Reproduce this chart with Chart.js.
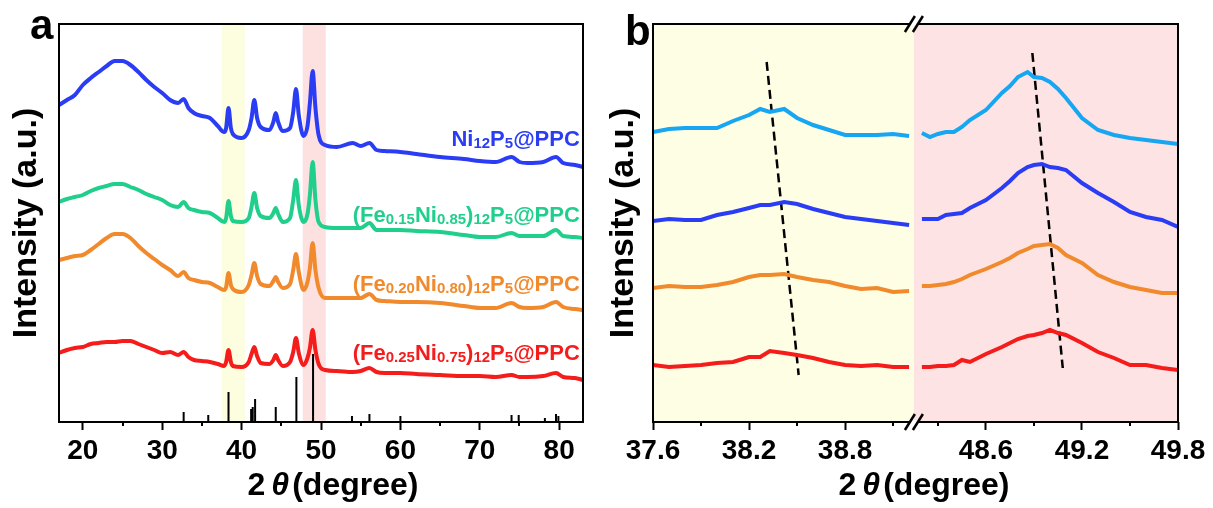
<!DOCTYPE html>
<html>
<head>
<meta charset="utf-8">
<script src="https://cdn.jsdelivr.net/npm/chart.js@4.4.1/dist/chart.umd.min.js"></script>
<style>
  body { margin: 0; background: #fff; }
  canvas { position: absolute; top: 0; }
</style>
</head>
<body>
<canvas id="chartA" width="600" height="508" style="left:0"></canvas>
<canvas id="chartB" width="613" height="508" style="left:600px"></canvas>
<script>
// XRD figure: (a) full patterns, (b) zoom on two peaks with broken axis

const FONT = '"Liberation Sans", Arial, sans-serif';
Chart.defaults.font.family = FONT;
Chart.defaults.color = '#000';

// ---- panel a : full patterns (2θ, offset intensity in a.u.) ----
const aX = [17, 18, 19, 20, 21, 22, 23, 24, 25, 26,
  27, 28, 29, 30, 31, 32, 32.7, 33.3, 34, 35,
  36, 37, 37.8, 38.05, 38.35, 38.65, 38.9, 40, 40.9, 41.25,
  41.6, 41.95, 42.4, 43.5, 44.0, 44.3, 44.6, 45.2, 46.1, 46.5,
  46.85, 47.2, 47.8, 48.3, 48.6, 48.95, 49.3, 49.7, 50.5, 52,
  54, 55, 56.1, 57, 58, 60, 62, 65, 68, 70,
  72, 74, 75, 76, 78, 79.6, 80.5, 82, 83];
const aNi = [317, 322, 327, 337, 344, 350, 356, 361, 361, 357,
  350, 342, 335, 329, 322, 319, 323, 314, 309, 306,
  304, 296, 290, 294, 314, 294, 288, 284, 292, 304,
  322, 304, 295, 292, 300, 309, 300, 291, 294, 310,
  333, 307, 286, 296, 319, 351, 314, 287, 277, 275,
  279, 276, 279, 272, 271, 270, 268, 265, 263, 261,
  260, 265, 260, 259, 260, 265, 259, 257, 255];
const aFe15 = [220, 223, 225, 227, 231, 234, 236, 238, 238, 235,
  232, 228, 225, 222, 217, 215, 220, 214, 212, 210,
  209, 204, 200, 204, 221, 206, 201, 200, 204, 215,
  229, 214, 206, 204, 209, 214, 208, 200, 204, 222,
  242, 217, 200, 208, 227, 260, 222, 200, 195, 194,
  194, 194, 199, 192, 192, 192, 191, 190, 187, 185,
  185, 189, 186, 186, 186, 192, 186, 185, 184];
const aFe20 = [162, 164, 166, 167, 172, 178, 184, 188, 188, 184,
  176, 169, 163, 157, 152, 146, 150, 144, 142, 140,
  139, 135, 132, 135, 149, 137, 133, 130, 137, 147,
  159, 146, 138, 136, 141, 145, 140, 134, 138, 152,
  168, 150, 132, 140, 154, 179, 152, 134, 124, 124,
  124, 124, 128, 122, 121, 120, 120, 119, 116, 114,
  114, 119, 115, 114, 115, 120, 115, 113, 112];
const aFe25 = [69, 72, 74, 75, 78, 79, 80, 80, 81, 81,
  78, 75, 72, 69, 70, 67, 70, 65, 62, 61,
  60, 58, 56, 60, 72, 60, 56, 55, 60, 68,
  75, 66, 59, 58, 62, 67, 62, 56, 60, 70,
  84, 69, 57, 64, 74, 92, 72, 58, 52, 51,
  50, 51, 54, 50, 49, 49, 48, 47, 46, 46,
  45, 47, 45, 45, 46, 49, 45, 44, 42];

// reference pattern (standard card) sticks
const stickX = [32.7, 35.8, 38.35, 41.2, 41.4, 41.7, 44.3, 46.9, 49.0, 53.9, 56.1, 60.0, 74.0, 74.9, 78.2, 79.6, 79.9];
const stickH = [10, 7, 30, 13, 15, 23, 15, 45, 68, 6, 8, 6, 7, 7, 4, 8, 6];

const aTicks = [20, 30, 40, 50, 60, 70, 80];
const aMinor = [25, 35, 45, 55, 65, 75];

const seriesLabels = [
  [['Ni', 0], ['12', 1], ['P', 0], ['5', 1], ['@PPC', 0]],
  [['(Fe', 0], ['0.15', 1], ['Ni', 0], ['0.85', 1], [')', 0], ['12', 1], ['P', 0], ['5', 1], ['@PPC', 0]],
  [['(Fe', 0], ['0.20', 1], ['Ni', 0], ['0.80', 1], [')', 0], ['12', 1], ['P', 0], ['5', 1], ['@PPC', 0]],
  [['(Fe', 0], ['0.25', 1], ['Ni', 0], ['0.75', 1], [')', 0], ['12', 1], ['P', 0], ['5', 1], ['@PPC', 0]]
];
const labelY = [284, 208, 139, 70];

const aColors = ['#2b3df4', '#20cf8c', '#f08a2d', '#f51c1c'];
const aBands = [
  { from: 37.5, to: 40.4, color: '#fdfddf' },
  { from: 47.7, to: 50.6, color: '#fde1e1' }
];

// ---- panel b : zoom on the two peaks, broken x axis ----
const bLeftX = [37.6, 37.7, 37.8, 37.9, 38.0, 38.1, 38.2, 38.27, 38.33, 38.42,
  38.5, 38.6, 38.7, 38.8, 38.9, 39.0, 39.1, 39.2];
const bRightX = [48.2, 48.25, 48.3, 48.35, 48.4, 48.45, 48.5, 48.6, 48.7, 48.75,
  48.8, 48.86, 48.9, 48.95, 49.0, 49.05, 49.1, 49.2, 49.3, 49.4,
  49.5, 49.6, 49.7, 49.8];

const bNiL = [290, 293, 294, 294, 294, 301, 307, 313, 310, 313, 304, 297, 292, 287, 287, 287, 288, 286];
const bNiR = [289, 285, 288, 290, 290, 295, 302, 312, 329, 336, 345, 350, 345, 344, 340, 333, 324, 304, 292, 287, 284, 282, 280, 278];
const bFe15L = [201, 203, 202, 202, 207, 210, 214, 217, 217, 220, 218, 213, 209, 205, 203, 201, 199, 197];
const bFe15R = [203, 203, 203, 207, 208, 209, 214, 222, 234, 241, 249, 255, 257, 258, 255, 254, 252, 239, 229, 220, 210, 205, 202, 195];
const bFe20L = [134, 136, 135, 135, 137, 140, 145, 147, 147, 148, 145, 142, 140, 136, 133, 134, 130, 131];
const bFe20R = [136, 136, 137, 138, 140, 143, 147, 153, 160, 164, 169, 173, 176, 177, 178, 174, 167, 159, 147, 140, 135, 132, 129, 129];
const bFe25L = [57, 55, 56, 57, 59, 60, 65, 65, 71, 69, 67, 64, 60, 57, 56, 57, 55, 55];
const bFe25R = [55, 55, 56, 56, 57, 62, 60, 68, 75, 79, 83, 86, 87, 89, 92, 89, 87, 79, 70, 64, 57, 57, 54, 52];

const bColors = ['#17a6f2', '#2b3df4', '#f08a2d', '#f51c1c'];
const bTicks = [37.6, 38.2, 38.8, 48.6, 49.2, 49.8];
const bMinor = [37.9, 38.5, 39.1, 48.3, 48.9, 49.5];
const bLeftCut = 39.23, bRightCut = 48.15;

// peak-shift guide lines
const guideL = [[38.31, 360], [38.51, 47]];
const guideR = [[48.89, 369], [49.08, 54]];

// ---------- helpers ----------
const SHIFT = bRightCut - bLeftCut;
const bMap = v => (v >= bRightCut ? v - SHIFT : v);
const bUnmap = v => (v > bLeftCut + 1e-6 ? v + SHIFT : v);
const xy = (xs, ys) => xs.map((x, i) => ({ x: x, y: ys[i] }));

function drawXTitle(ctx, cx, cy) {
  const big = 'bold 32px ' + FONT, ital = 'italic bold 32px ' + FONT;
  const parts = [['2', big, 6], ['\u03b8', ital, 3], ['(degree)', big, 0]];
  let w = 0;
  parts.forEach(p => { ctx.font = p[1]; w += ctx.measureText(p[0]).width + p[2]; });
  let x = cx - w / 2;
  ctx.fillStyle = '#000';
  ctx.textAlign = 'left';
  ctx.textBaseline = 'middle';
  parts.forEach(p => { ctx.font = p[1]; ctx.fillText(p[0], x, cy); x += ctx.measureText(p[0]).width + p[2]; });
}

function drawRich(ctx, segs, xRight, yMid, color) {
  const main = 'bold 22px ' + FONT, sub = 'bold 15px ' + FONT;
  let w = 0;
  segs.forEach(([t, s]) => { ctx.font = s ? sub : main; w += ctx.measureText(t).width; });
  let x = xRight - w;
  ctx.fillStyle = color;
  ctx.textAlign = 'left';
  ctx.textBaseline = 'alphabetic';
  segs.forEach(([t, s]) => {
    ctx.font = s ? sub : main;
    ctx.fillText(t, x, yMid + 8 + (s ? 2 : 0));
    x += ctx.measureText(t).width;
  });
}

function drawFrame(ctx, ca) {
  ctx.strokeStyle = '#000';
  ctx.lineWidth = 2;
  ctx.strokeRect(ca.left, ca.top, ca.right - ca.left, ca.bottom - ca.top);
}

function drawMinor(ctx, scale, ca, vals) {
  ctx.strokeStyle = '#000';
  ctx.lineWidth = 2;
  vals.forEach(v => {
    const px = Math.round(scale.getPixelForValue(v));
    ctx.beginPath();
    ctx.moveTo(px, ca.bottom);
    ctx.lineTo(px, ca.bottom + 4);
    ctx.stroke();
  });
}

function drawLetter(ctx, t, x, y) {
  ctx.font = 'bold 42px ' + FONT;
  ctx.fillStyle = '#000';
  ctx.textAlign = 'left';
  ctx.textBaseline = 'alphabetic';
  ctx.fillText(t, x, y);
}

const xTickStyle = {
  font: { size: 28, weight: 'bold' }, padding: 4, maxRotation: 0, autoSkip: false
};
const xGrid = { drawOnChartArea: false, drawTicks: true, tickLength: 8, tickWidth: 2, color: '#000' };
const yTitle = (pad) => ({
  display: true, text: 'Intensity (a.u.)', font: { size: 34, weight: 'bold' }, padding: { top: pad, bottom: 0 }
});

// ---------- panel a ----------
const lineA = (data, color) => ({
  data: xy(aX, data), borderColor: color, borderWidth: 4, pointRadius: 0,
  cubicInterpolationMode: 'monotone', fill: false
});

const sticks = [];
stickX.forEach((x, i) => { sticks.push({ x: x, y: 0 }, { x: x, y: stickH[i] }, { x: x, y: null }); });

const panelA = {
  id: 'panelA',
  beforeDatasetsDraw(chart) {
    const { ctx, chartArea: ca, scales: { x } } = chart;
    ctx.save();
    aBands.forEach(b => {
      const x0 = x.getPixelForValue(b.from), x1 = x.getPixelForValue(b.to);
      ctx.fillStyle = b.color;
      ctx.fillRect(x0, ca.top, x1 - x0, ca.bottom - ca.top);
    });
    ctx.restore();
  },
  afterDraw(chart) {
    const { ctx, chartArea: ca, scales: { x, y } } = chart;
    ctx.save();
    seriesLabels.forEach((segs, i) => {
      drawRich(ctx, segs, x.getPixelForValue(82.6), y.getPixelForValue(labelY[i]), aColors[i]);
    });
    drawFrame(ctx, ca);
    drawMinor(ctx, x, ca, aMinor);
    drawXTitle(ctx, 333, 486);
    drawLetter(ctx, 'a', 30, 39);
    ctx.restore();
  }
};

new Chart(document.getElementById('chartA'), {
  type: 'line',
  data: {
    datasets: [
      lineA(aNi, aColors[0]),
      lineA(aFe15, aColors[1]),
      lineA(aFe20, aColors[2]),
      lineA(aFe25, aColors[3]),
      { data: sticks, borderColor: '#000', borderWidth: 2, pointRadius: 0, spanGaps: false }
    ]
  },
  options: {
    responsive: false,
    animation: false,
    layout: { padding: { top: 24, right: 17, left: 0, bottom: 0 } },
    plugins: { legend: { display: false }, tooltip: { enabled: false } },
    scales: {
      x: {
        type: 'linear', min: 17, max: 83,
        afterBuildTicks: s => { s.ticks = aTicks.map(v => ({ value: v })); },
        ticks: xTickStyle,
        grid: xGrid,
        border: { display: false },
        afterFit: s => { s.height = 86; }
      },
      y: {
        min: 0, max: 398,
        ticks: { display: false },
        grid: { display: false },
        border: { display: false },
        title: yTitle(6),
        afterFit: s => { s.width = 59; }
      }
    }
  },
  plugins: [panelA]
});

// ---------- panel b ----------
const lineB = (l, r, color) => ({
  data: xy(bLeftX, l).concat([{ x: bLeftCut, y: null }], xy(bRightX.map(bMap), r)),
  borderColor: color, borderWidth: 4, pointRadius: 0, spanGaps: false, fill: false
});
const guide = pts => ({
  data: pts.map(p => ({ x: bMap(p[0]), y: p[1] })),
  borderColor: '#000', borderWidth: 2.5, borderDash: [9, 5], pointRadius: 0, fill: false
});

const panelB = {
  id: 'panelB',
  beforeDatasetsDraw(chart) {
    const { ctx, chartArea: ca, scales: { x } } = chart;
    const xb = x.getPixelForValue(bLeftCut);
    ctx.save();
    ctx.fillStyle = '#fefee4';
    ctx.fillRect(ca.left, ca.top, xb - ca.left, ca.bottom - ca.top);
    ctx.fillStyle = '#fde3e4';
    ctx.fillRect(xb, ca.top, ca.right - xb, ca.bottom - ca.top);
    ctx.restore();
  },
  afterDraw(chart) {
    const { ctx, chartArea: ca, scales: { x } } = chart;
    const xb = x.getPixelForValue(bLeftCut);
    ctx.save();
    drawFrame(ctx, ca);
    drawMinor(ctx, x, ca, bMinor.map(bMap));
    // axis break marks
    [ca.top, ca.bottom].forEach(yy => {
      ctx.fillStyle = '#fff';
      ctx.fillRect(xb - 3, yy - 2, 6, 4);
      ctx.strokeStyle = '#000';
      ctx.lineWidth = 2.5;
      [-4, 4].forEach(dx => {
        ctx.beginPath();
        ctx.moveTo(xb + dx - 5, yy + 8);
        ctx.lineTo(xb + dx + 5, yy - 8);
        ctx.stroke();
      });
    });
    drawXTitle(ctx, 324, 486);
    drawLetter(ctx, 'b', 25, 45);
    ctx.restore();
  }
};

new Chart(document.getElementById('chartB'), {
  type: 'line',
  data: {
    datasets: [
      lineB(bNiL, bNiR, bColors[0]),
      lineB(bFe15L, bFe15R, bColors[1]),
      lineB(bFe20L, bFe20R, bColors[2]),
      lineB(bFe25L, bFe25R, bColors[3]),
      guide(guideL),
      guide(guideR)
    ]
  },
  options: {
    responsive: false,
    animation: false,
    layout: { padding: { top: 24, right: 35, left: 0, bottom: 0 } },
    plugins: { legend: { display: false }, tooltip: { enabled: false } },
    scales: {
      x: {
        type: 'linear', min: 37.6, max: bMap(49.8),
        afterBuildTicks: s => { s.ticks = bTicks.map(v => ({ value: bMap(v) })); },
        ticks: Object.assign({}, xTickStyle, { callback: v => bUnmap(v).toFixed(1) }),
        grid: xGrid,
        border: { display: false },
        afterFit: s => { s.height = 86; }
      },
      y: {
        min: 0, max: 398,
        ticks: { display: false },
        grid: { display: false },
        border: { display: false },
        title: yTitle(3),
        afterFit: s => { s.width = 53; }
      }
    }
  },
  plugins: [panelB]
});
</script>
</body>
</html>
